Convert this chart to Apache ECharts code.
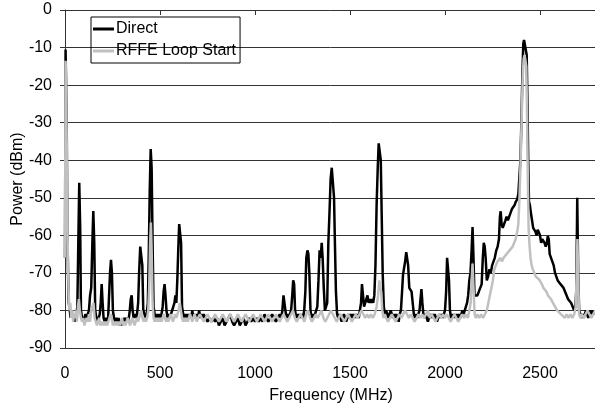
<!DOCTYPE html>
<html>
<head>
<meta charset="utf-8">
<script src="https://cdn.jsdelivr.net/npm/echarts@6/dist/echarts.min.js"></script>
<style>
  html, body { margin: 0; padding: 0; background: #fff; }
  #chart { width: 595px; height: 406px; }
</style>
</head>
<body>
<div id="chart"></div>
<script>
const seriesNames = ['Direct', 'RFFE Loop Start']
const yTicks = [-90, -80, -70, -60, -50, -40, -30, -20, -10, 0]
const xTicks = [0, 500, 1000, 1500, 2000, 2500]

// [frequency MHz, power dBm]
const directData = [
  [0,-66],[3,-10.5],[6,-11],[9,-30],[12,-55],[16,-70],[20,-78],[25,-80],[30,-82],[35,-80],[40,-82],[45,-81],[50,-83],[55,-82],[60,-81],[65,-79],[70,-62],[75,-46],[80,-58],[84,-80],
  [90,-82],[96,-83],[102,-82],[108,-81],[114,-82],[120,-81],[126,-80],[132,-76],[138,-74],[144,-62],[149,-53.5],[154,-62],[159,-80],[165,-82],[171,-83],[177,-82],[183,-81],[188,-78],[193,-73],[198,-78],
  [203,-82],[209,-83],[215,-82],[221,-83],[227,-82],[232,-76],[237,-70],[242,-66.5],[247,-70],[252,-80],[258,-82],[264,-83],[270,-82],[276,-83],[282,-82],[288,-84],[294,-83],[300,-84],[306,-83],[312,-82],
  [318,-83],[324,-82],[330,-83],[336,-82],[341,-80],[346,-77],[351,-76],[356,-80],[361,-82],[367,-81],[373,-82],[379,-81],[385,-78],[390,-70],[396,-63],[402,-62.5],[407,-68],[412,-80],[418,-81],[424,-82],
  [430,-81],[436,-78],[441,-65],[446,-48],[451,-37],[456,-42],[461,-62],[466,-79],[472,-81],[478,-82],[484,-81],[490,-82],[496,-81],[502,-82],[508,-81],[514,-79],[519,-75],[524,-73],[529,-76],[534,-80],
  [540,-82],[546,-81],[552,-82],[558,-81],[564,-80],[570,-79],[576,-78],[581,-76],[586,-78],[591,-72],[596,-64],[601,-57],[606,-56.5],[611,-62],[616,-79],[622,-81],[628,-82],[634,-81],[640,-82],[646,-81],
  [652,-82],[658,-81],[664,-82],[670,-80],[676,-82],[682,-81],[688,-82],[694,-81],[700,-82],[706,-80],[712,-82],[718,-81],[724,-82],[730,-81],[740,-82],[750,-83],[760,-82],[770,-83],[780,-82],[790,-83],
  [800,-82],[810,-84],[820,-83],[830,-82],[840,-84],[850,-83],[860,-82],[870,-81],[880,-83],[890,-84],[900,-83],[910,-82],[920,-84],[930,-83],[940,-82],[950,-84],[960,-83],[970,-82],[980,-83],[990,-82],
  [1000,-83],[1010,-82],[1020,-83],[1030,-82],[1040,-83],[1050,-81],[1060,-82],[1070,-83],[1080,-82],[1090,-81],[1100,-82],[1110,-83],[1120,-82],[1130,-81],[1138,-82],[1144,-80],[1150,-76],[1155,-76],[1160,-80],[1166,-82],
  [1172,-81],[1178,-82],[1184,-81],[1190,-80],[1196,-76],[1201,-72],[1206,-73],[1211,-80],[1217,-82],[1223,-81],[1229,-82],[1235,-81],[1241,-82],[1247,-81],[1253,-82],[1259,-80],[1265,-75],[1270,-66],[1276,-64],[1281,-65],
  [1286,-70],[1292,-80],[1298,-82],[1304,-81],[1310,-82],[1316,-81],[1322,-80],[1328,-79],[1334,-72],[1340,-64],[1346,-66],[1351,-62],[1356,-66],[1362,-74],[1368,-80],[1374,-79],[1380,-78],[1386,-62],[1392,-54],[1398,-45],
  [1404,-42],[1410,-42],[1416,-50],[1421,-63],[1426,-75],[1432,-81],[1438,-82],[1444,-81],[1450,-82],[1456,-83],[1462,-82],[1468,-81],[1474,-82],[1480,-83],[1486,-82],[1492,-81],[1498,-82],[1504,-81],[1510,-82],[1516,-81],
  [1522,-82],[1528,-81],[1534,-82],[1540,-81],[1546,-82],[1552,-80],[1558,-78],[1563,-73],[1568,-73.5],[1574,-79],[1580,-78],[1586,-77],[1592,-76],[1598,-78],[1604,-77],[1610,-78],[1616,-77],[1622,-78],[1628,-76],[1634,-68],
  [1640,-52],[1646,-42],[1651,-35.5],[1657,-35.2],[1662,-40],[1667,-55],[1672,-70],[1678,-79],[1684,-81],[1690,-80],[1696,-81],[1702,-82],[1708,-81],[1714,-80],[1720,-81],[1726,-82],[1732,-81],[1738,-82],[1744,-81],[1750,-82],
  [1756,-83],[1762,-81],[1768,-80],[1774,-75],[1779,-70.5],[1784,-71],[1790,-67],[1796,-64.5],[1801,-64],[1806,-68],[1812,-74],[1818,-74],[1824,-75],[1830,-78],[1836,-81],[1842,-82],[1848,-81],[1854,-82],[1860,-81],[1866,-80],
  [1871,-77],[1876,-74.3],[1881,-78],[1886,-81],[1892,-82],[1898,-81],[1904,-82],[1910,-83],[1916,-82],[1922,-81],[1928,-82],[1934,-81],[1940,-82],[1946,-81],[1952,-82],[1958,-83],[1964,-82],[1970,-81],[1976,-82],[1982,-81],
  [1988,-82],[1994,-81],[2000,-80],[2006,-75],[2011,-66],[2016,-66],[2021,-72],[2026,-80],[2032,-82],[2038,-81],[2044,-82],[2050,-81],[2056,-82],[2062,-81],[2068,-82],[2074,-81],[2080,-82],[2086,-81],[2092,-80],[2098,-81],
  [2104,-80],[2110,-79],[2116,-78],[2122,-76],[2128,-72],[2134,-70],[2140,-64],[2145,-57.8],[2150,-66],[2155,-76],[2162,-76.5],[2170,-76],[2178,-75],[2186,-75],[2193,-73],[2199,-66],[2204,-62],[2209,-63],[2214,-66],[2220,-72],
  [2227,-71],[2234,-69],[2241,-70],[2248,-68],[2255,-67],[2262,-66],[2270,-64],[2277,-63],[2284,-61],[2289,-55],[2293,-53.6],[2298,-57],[2304,-58],[2311,-58.4],[2318,-56],[2324,-55],[2331,-56],[2338,-55],[2345,-54],[2352,-53],
  [2359,-52.5],[2366,-52],[2373,-51],[2380,-50.4],[2386,-49],[2392,-44],[2397,-40],[2402,-30],[2407,-18],[2412,-9],[2416,-8],[2421,-7.8],[2426,-8],[2430,-12],[2434,-25],[2438,-40],[2442,-51],[2447,-52],[2452,-54],[2458,-56],
  [2464,-58],[2470,-57.5],[2476,-59],[2482,-60],[2488,-58.5],[2494,-59],[2500,-60],[2506,-62],[2512,-61],[2518,-61],[2524,-62],[2530,-63],[2536,-62],[2541,-60.2],[2546,-61],[2551,-65],[2558,-66],[2565,-67],[2572,-68],[2579,-70],
  [2586,-70],[2593,-72],[2600,-72.5],[2608,-73],[2616,-73],[2624,-74],[2632,-75],[2640,-76],[2648,-77],[2656,-77],[2664,-78],[2672,-79],[2680,-80],[2686,-79],[2691,-75],[2696,-50],[2701,-70],[2706,-80],[2712,-81],[2718,-82],
  [2724,-81],[2730,-82],[2736,-81],[2742,-80],[2748,-81],[2754,-82],[2760,-81],[2766,-80],[2772,-81],[2778,-80],[2784,-81],[2790,-80],[2796,-81],[2800,-80]
]

const loopData = [
  [0,-66],[3,-13.5],[6,-18],[9,-35],[12,-52],[15,-65],[19,-75],[23,-80],[28,-78],[33,-82],[38,-80],[43,-83],[48,-81],[53,-82],[58,-80],[63,-83],[68,-79],[73,-77],[78,-80],[84,-82],
  [90,-83],[96,-82],[102,-84],[108,-83],[114,-82],[120,-83],[126,-81],[132,-83],[138,-80],[144,-79],[150,-78],[156,-82],[162,-83],[168,-84],[174,-83],[180,-82],[186,-84],[192,-83],[198,-84],[204,-83],
  [210,-84],[216,-83],[222,-84],[228,-83],[234,-82],[240,-81],[246,-82],[252,-84],[258,-83],[264,-84],[270,-83],[276,-84],[282,-83],[288,-84],[294,-83],[300,-82],[306,-84],[312,-83],[318,-84],[324,-83],
  [330,-82],[336,-83],[342,-84],[348,-83],[354,-82],[360,-83],[366,-84],[372,-83],[378,-82],[384,-83],[390,-82],[396,-81],[402,-80],[408,-82],[414,-83],[420,-82],[426,-83],[432,-82],[438,-80],[443,-74],
  [448,-62],[452,-56.6],[456,-64],[461,-78],[466,-82],[472,-83],[478,-82],[484,-83],[490,-82],[496,-83],[502,-82],[508,-83],[514,-82],[520,-81],[526,-82],[532,-83],[538,-82],[544,-83],[550,-82],[556,-81],
  [562,-82],[568,-83],[574,-82],[580,-81],[586,-82],[592,-81],[598,-80],[604,-78],[610,-80],[616,-82],[622,-83],[628,-82],[634,-83],[640,-82],[646,-83],[652,-82],[658,-81],[664,-82],[670,-83],[676,-82],
  [682,-81],[688,-82],[694,-83],[700,-82],[710,-81],[720,-82],[730,-83],[740,-82],[750,-81],[760,-82],[770,-83],[780,-82],[790,-81],[800,-82],[810,-83],[820,-82],[830,-81],[840,-82],[850,-83],[860,-82],
  [870,-81],[880,-82],[890,-83],[900,-82],[910,-81],[920,-82],[930,-83],[940,-82],[950,-81],[960,-82],[970,-83],[980,-82],[990,-81],[1000,-82],[1010,-83],[1020,-82],[1030,-81],[1040,-82],[1050,-83],[1060,-82],
  [1070,-81],[1080,-82],[1090,-83],[1100,-82],[1110,-81],[1120,-82],[1130,-83],[1140,-82],[1150,-81],[1160,-82],[1170,-83],[1180,-82],[1190,-81],[1200,-80],[1210,-82],[1220,-83],[1230,-82],[1240,-81],[1250,-82],[1260,-83],
  [1270,-81],[1280,-80],[1290,-82],[1300,-83],[1310,-82],[1320,-81],[1330,-82],[1340,-81],[1350,-80],[1360,-82],[1370,-83],[1380,-82],[1390,-81],[1400,-80],[1410,-81],[1420,-82],[1430,-83],[1440,-82],[1450,-81],[1460,-82],
  [1470,-83],[1480,-82],[1490,-81],[1500,-82],[1510,-83],[1520,-82],[1530,-81],[1540,-82],[1550,-81],[1560,-80],[1570,-81],[1580,-82],[1590,-81],[1600,-82],[1610,-81],[1620,-82],[1630,-81],[1640,-79],[1648,-76],[1654,-72],
  [1659,-71.7],[1664,-75],[1670,-80],[1676,-82],[1682,-81],[1690,-82],[1700,-83],[1710,-82],[1720,-81],[1730,-82],[1740,-83],[1750,-82],[1760,-81],[1770,-82],[1780,-81],[1790,-80],[1800,-81],[1810,-82],[1820,-81],[1830,-82],
  [1840,-83],[1850,-82],[1860,-81],[1870,-82],[1880,-81],[1890,-82],[1900,-81],[1910,-80],[1920,-82],[1930,-81],[1940,-82],[1950,-83],[1960,-82],[1970,-81],[1980,-82],[1990,-81],[2000,-82],[2010,-81],[2020,-82],[2030,-83],
  [2040,-82],[2050,-81],[2060,-82],[2070,-83],[2080,-82],[2090,-81],[2100,-82],[2110,-81],[2120,-82],[2128,-80],[2135,-78],[2140,-72],[2145,-67.5],[2150,-74],[2156,-81],[2162,-82],[2170,-81],[2180,-82],[2190,-81],[2200,-82],
  [2210,-81],[2220,-80],[2228,-78],[2236,-76],[2244,-74],[2252,-72],[2260,-69],[2268,-68],[2276,-67],[2284,-67],[2292,-66],[2300,-67],[2308,-66],[2316,-65.5],[2324,-65],[2332,-65],[2340,-64],[2348,-64.5],[2356,-63],[2364,-62.5],
  [2372,-61],[2380,-59],[2386,-57],[2392,-50],[2398,-40],[2404,-28],[2409,-18],[2414,-13],[2419,-12],[2424,-12],[2428,-15],[2432,-28],[2436,-45],[2440,-58],[2444,-62],[2450,-66],[2456,-68],[2462,-69],[2470,-70],[2478,-71],
  [2486,-71.5],[2494,-71.7],[2502,-72],[2510,-73],[2518,-74],[2526,-74.5],[2534,-75],[2542,-76],[2550,-76.5],[2558,-77],[2566,-77.8],[2574,-78.5],[2582,-79],[2590,-80],[2600,-80.5],[2610,-81],[2620,-81],[2630,-82],[2640,-81],[2650,-82],
  [2660,-81],[2670,-82],[2680,-81],[2688,-79],[2693,-70],[2697,-61],[2701,-72],[2706,-81],[2712,-82],[2720,-81],[2730,-82],[2740,-81],[2750,-80],[2760,-81],[2770,-82],[2780,-81],[2790,-80],[2800,-81]
]

const font = 'Liberation Sans'
const chart = echarts.init(document.getElementById('chart'))

const option = {
  animation: false,
  textStyle: { fontFamily: font },
  grid: { left: 65, right: -2, top: 10, bottom: 58, outerBoundsMode: 'none', containLabel: false },
  legend: {
    data: seriesNames,
    orient: 'vertical',
    left: 91,
    top: 17,
    icon: 'rect',
    padding: [3, 4, 3, 2],
    itemGap: 4,
    itemWidth: 21,
    itemHeight: 3,
    borderColor: '#000',
    borderWidth: 1,
    borderRadius: 0,
    textStyle: { fontFamily: font, fontSize: 16, lineHeight: 18, color: '#000', padding: [0, 0, 0, -3] }
  },
  xAxis: {
    type: 'value',
    min: 0,
    max: 2800,
    interval: 500,
    name: 'Frequency (MHz)',
    nameLocation: 'middle',
    nameGap: 40,
    nameMoveOverlap: false,
    nameTextStyle: { fontFamily: font, fontSize: 16, color: '#000' },
    axisLine: { lineStyle: { color: '#333', width: 1 } },
    axisTick: { show: true, length: 5, lineStyle: { color: '#333' } },
    axisLabel: {
      fontFamily: font, fontSize: 16, color: '#000', margin: 18,
      formatter: v => xTicks.includes(v) ? String(v) : ''
    },
    splitLine: { show: false }
  },
  yAxis: {
    type: 'value',
    min: -90,
    max: 0,
    interval: 10,
    name: 'Power (dBm)',
    nameLocation: 'middle',
    nameGap: 39,
    nameMoveOverlap: false,
    nameTextStyle: { fontFamily: font, fontSize: 16, color: '#000' },
    axisLine: { show: true, lineStyle: { color: '#333', width: 1 } },
    axisTick: { show: true, length: 5, lineStyle: { color: '#333' } },
    axisLabel: {
      fontFamily: font, fontSize: 16, color: '#000', margin: 13,
      formatter: v => yTicks.includes(v) ? String(v) : ''
    },
    splitLine: {
      show: true,
      lineStyle: {
        color: ['#333', '#333', '#333', '#333', '#333', '#333', '#333', '#333', '#333', '#999'],
        width: 1
      }
    }
  },
  series: [
    {
      name: seriesNames[0],
      type: 'line',
      data: directData,
      symbol: 'none',
      lineStyle: { color: '#000', width: 2.5 },
      itemStyle: { color: '#000' },
      z: 2
    },
    {
      name: seriesNames[1],
      type: 'line',
      data: loopData,
      symbol: 'none',
      lineStyle: { color: '#c0c0c0', width: 2.5 },
      itemStyle: { color: '#c0c0c0' },
      z: 3
    }
  ]
}

chart.setOption(option)
</script>
</body>
</html>
